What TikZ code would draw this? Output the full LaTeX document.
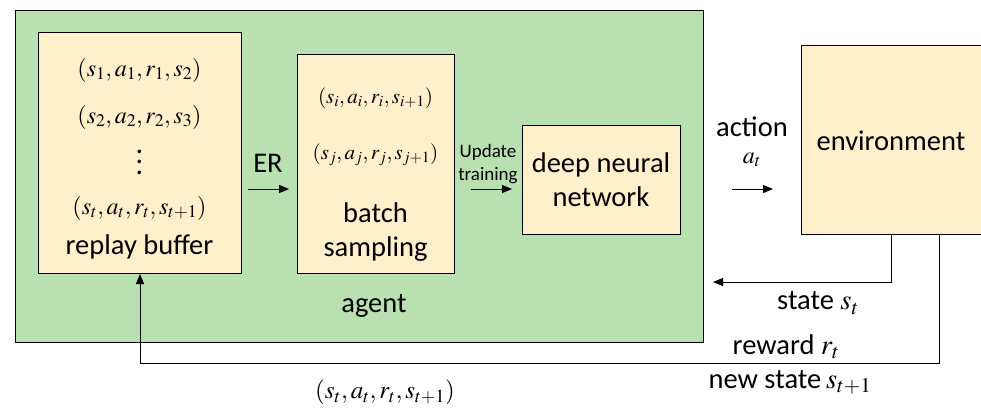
\documentclass[tikz,border=0pt]{standalone}
\usepackage{mathptmx}
\usepackage[no-math]{fontspec}
\setmainfont{Carlito}
\usetikzlibrary{arrows.meta,positioning}

\definecolor{agentgreen}{RGB}{185,224,176}
\definecolor{boxcream}{RGB}{255,240,203}

\tikzset{
	box/.style={draw, fill=boxcream, line width=1pt, anchor=north west, inner sep=0pt},
	flow/.style={-{Triangle[length=10pt,width=8pt]}, line width=1pt},
	lbl/.style={font=\fontsize{28.5}{34}\selectfont, inner sep=0pt, align=center},
	smalllbl/.style={font=\fontsize{19}{23}\selectfont, inner sep=0pt, align=center},
	tuple/.style={font=\fontsize{24}{28}\selectfont, inner sep=0pt},
}

\begin{document}
\begin{tikzpicture}[x=1pt,y=-1pt]
	\useasboundingbox (0,0) rectangle (981,407);
	\clip (0,0) rectangle (981,407);
	
	% boxes
	\node[box, fill=agentgreen, minimum width=688pt, minimum height=332pt] (agent) at (15,10) {};
	\node[box, minimum width=203pt, minimum height=241pt] (buffer) at (38,32) {};
	\node[box, minimum width=157pt, minimum height=219pt] (batch) at (297,54) {};
	\node[box, minimum width=158pt, minimum height=109pt] (dnn) at (522,125) {};
	\node[box, minimum width=185pt, minimum height=189pt] (env) at (801,45) {};
	
	% replay buffer contents
	\node[tuple] (t1) at (139.5,70) {$(s_1,a_1,r_1,s_2)$};
	\node[tuple] (t2) at (139.5,117) {$(s_2,a_2,r_2,s_3)$};
	\node[tuple, align=center, font=\fontsize{30}{10.5}\selectfont] (tdots) at (139.5,162) {.\\.\\.};
	\node[tuple] (tt) at (139.5,208) {$(s_t,a_t,r_t,s_{t+1})$};
	\node[lbl] (bufname) at (139.5,247) {replay buffer};
	
	% batch contents
	\node[tuple, font=\fontsize{21}{25}\selectfont] (ti) at (375.5,98) {$(s_i,a_i,r_i,s_{i+1})$};
	\node[tuple, font=\fontsize{21}{25}\selectfont] (tj) at (375.5,155) {$(s_j,a_j,r_j,s_{j+1})$};
	\node[lbl] (batchname) at (375.5,232) {batch\\sampling};
	
	\node[lbl] (dnnname) at (601,180) {deep neural\\network};
	\node[lbl] (envname) at (891,141) {environment};
	\node[lbl] (agentname) at (374,306) {agent};
	
	% arrows inside agent
	\coordinate (mid) at (0,189);
	\draw[flow, shorten <=6pt, shorten >=8pt] (buffer.east |- mid) -- (batch.west |- mid);
	\node[lbl] (er) at (268,163) {ER};
	\draw[flow, shorten <=16pt, shorten >=10pt] (batch.east |- mid) -- (dnn.west |- mid);
	\node[smalllbl] (upd) at (488,164) {Update\\training};
	
	% action
	\draw[flow, shorten <=28pt, shorten >=28pt] (agent.east |- mid) -- (env.west |- mid);
	\node[lbl] (act) at (752,127) {action};
	\node[tuple] (at) at (752,160) {$a_t$};
	
	% state feedback
	\coordinate (stateend) at (713,282);
	\draw[flow] ([xshift=-2.5pt]env.south) |- (stateend);
	\node[lbl] (st) at (818,303) {state $s_t$};
	
	% reward / new state feedback
	\coordinate (rowbottom) at (0,363);
	\draw[flow] ([xshift=45.5pt]env.south) |- (buffer.south |- rowbottom) -- (buffer.south);
	\node[lbl] (rw) at (786,347) {reward $r_t$};
	\node[lbl] (ns) at (790,382) {new state\,$s_{t+1}$};
	\node[tuple, font=\fontsize{25}{29}\selectfont] (tup) at (385,392) {$(s_t,a_t,r_t,s_{t+1})$};
\end{tikzpicture}
\end{document}
